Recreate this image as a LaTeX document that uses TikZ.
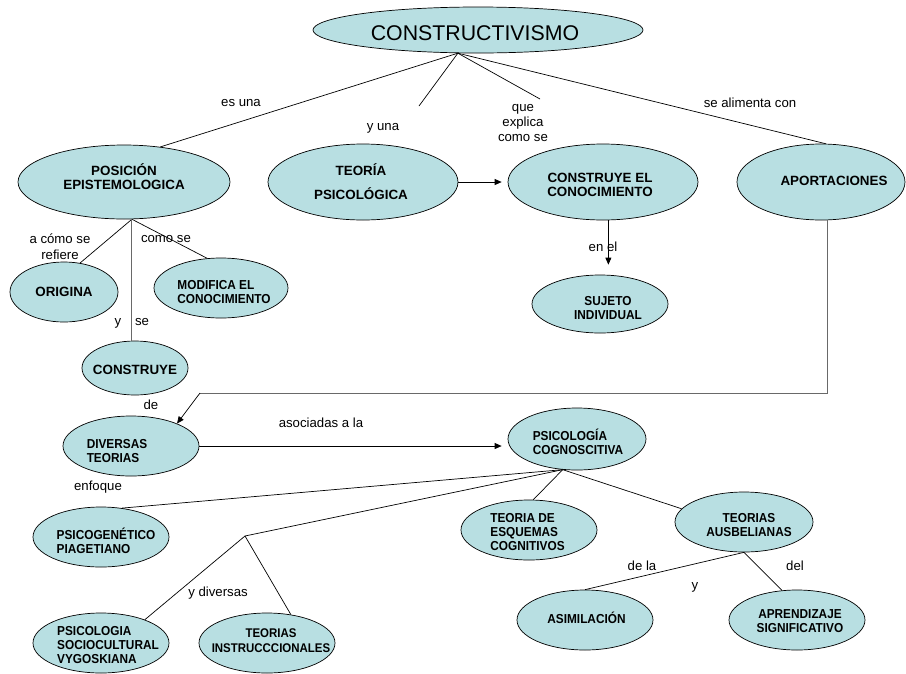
\documentclass[tikz,border=0pt]{standalone}
\usepackage{fontspec}
\setmainfont{Liberation Sans}
\newfontfamily\condfont[FakeStretch=0.91]{Liberation Sans}
\usetikzlibrary{shapes.geometric,arrows.meta}
\definecolor{nodefill}{RGB}{184,223,226}
\definecolor{linkgray}{RGB}{105,105,105}
\tikzset{
  concept/.style={ellipse, draw=black, fill=nodefill, line width=0.7pt, inner sep=0pt},
  ctext/.style={inner sep=0pt, align=center, font=\fontsize{13.4}{14.5}\selectfont\bfseries},
  ctextc/.style={inner sep=0pt, align=center, font=\fontsize{13}{14.5}\selectfont\condfont\bfseries},
  linktext/.style={font=\fontsize{13.2}{15}\selectfont, align=center, inner sep=0pt},
  conn/.style={line width=0.7pt, draw=black},
  grayconn/.style={line width=1pt, draw=linkgray},
  arr/.style={-{Triangle[length=7pt,width=6pt]}},
}
\begin{document}
\begin{tikzpicture}[x=1pt,y=-1pt]
\useasboundingbox (0,0) rectangle (906,673);

% concept nodes
\node[concept, minimum width=330, minimum height=46,
  label={[ctext, font=\fontsize{21.3}{24}\selectfont, xshift=-3pt, yshift=-3pt]center:CONSTRUCTIVISMO}] (C) at (478,30) {};
\node[concept, minimum width=212, minimum height=74,
  label={[ctext, yshift=5.5pt]center:{POSICIÓN\\EPISTEMOLOGICA}}] (POS) at (124,182) {};
\node[concept, minimum width=190, minimum height=76,
  label={[ctext, xshift=-2pt]center:{TEORÍA\\[9.5pt]PSICOLÓGICA}}] (TP) at (363,182) {};
\node[concept, minimum width=190, minimum height=76,
  label={[ctext, xshift=-3pt, yshift=-3pt]center:{CONSTRUYE EL\\CONOCIMIENTO}}] (CEC) at (603,182) {};
\node[concept, minimum width=168, minimum height=76,
  label={[ctext, xshift=13pt, yshift=1pt]center:APORTACIONES}] (AP) at (821,182) {};
\node[concept, minimum width=136, minimum height=58,
  label={[ctextc, xshift=8pt, yshift=-4pt]center:{SUJETO\\INDIVIDUAL}}] (SI) at (600,304) {};
\node[concept, minimum width=108, minimum height=60,
  label={[ctext]center:ORIGINA}] (OR) at (64,292) {};
\node[concept, minimum width=134, minimum height=60,
  label={[ctextc, align=left, xshift=3pt, yshift=-4pt]center:{MODIFICA EL\\CONOCIMIENTO}}] (MOD) at (221,288) {};
\node[concept, minimum width=106, minimum height=54,
  label={[ctext, yshift=-2pt]center:CONSTRUYE}] (CON) at (135,368) {};
\node[concept, minimum width=136, minimum height=60,
  label={[ctextc, align=left, xshift=-14pt, yshift=-5pt]center:{DIVERSAS\\TEORIAS}}] (DT) at (131,446) {};
\node[concept, minimum width=138, minimum height=62,
  label={[ctextc, align=left, xshift=1pt, yshift=-3pt]center:{PSICOLOGÍA\\COGNOSCITIVA}}] (PC) at (577,439) {};
\node[concept, minimum width=136, minimum height=60,
  label={[ctextc, align=left, xshift=5pt, yshift=-4pt]center:{PSICOGENÉTICO\\PIAGETIANO}}] (PP) at (101,537) {};
\node[concept, minimum width=136, minimum height=60,
  label={[ctextc, align=left, font=\fontsize{13}{14}\selectfont\condfont\bfseries, xshift=7pt, yshift=-2pt]center:{PSICOLOGIA\\SOCIOCULTURAL\\VYGOSKIANA}}] (PSV) at (101,643) {};
\node[concept, minimum width=136, minimum height=60,
  label={[ctextc, font=\fontsize{12.6}{14.5}\selectfont\condfont\bfseries, xshift=4pt, yshift=2.5pt]center:{TEORIAS\\INSTRUCCCIONALES}}] (TI) at (267,643) {};
\node[concept, minimum width=136, minimum height=60,
  label={[ctextc, align=left, font=\fontsize{13}{14}\selectfont\condfont\bfseries, xshift=-1.5pt, yshift=-2pt]center:{TEORIA DE\\ESQUEMAS\\COGNITIVOS}}] (TE) at (529,530) {};
\node[concept, minimum width=138, minimum height=60,
  label={[ctextc, xshift=5pt, yshift=-3pt]center:{TEORIAS\\AUSBELIANAS}}] (TA) at (744,522) {};
\node[concept, minimum width=136, minimum height=60,
  label={[ctextc, xshift=1.5pt, yshift=2pt]center:ASIMILACIÓN}] (AS) at (585,620) {};
\node[concept, minimum width=136, minimum height=60,
  label={[ctextc, xshift=3pt, yshift=-1pt]center:{APRENDIZAJE\\SIGNIFICATIVO}}] (APS) at (797,620) {};

% free ends and bends
\coordinate (yuna) at (419,106);
\coordinate (quex) at (540,99);
\coordinate (bend) at (200,393);
\coordinate (fork) at (245,536);

% connectors from CONSTRUCTIVISMO
\draw[conn] (C.229) -- (POS.44);
\draw[conn] (C.229) -- (yuna);
\draw[conn] (C.229) -- (quex);
\draw[conn] (C.229) -- (AP.83);

% TEORIA -> CONSTRUYE EL CONOCIMIENTO -> SUJETO
\draw[conn, arr, shorten >=6pt] (TP.east) -- (CEC.west);
\draw[conn, arr, shorten >=10pt] (CEC.278) -- (CEC.278 |- SI.north);

% POSICION branches
\draw[conn] (POS.282) -- (OR.61);
\draw[conn] (POS.282) -- (MOD.115);
\draw[grayconn] (POS.282) -- (POS.282 |- CON.north);

% APORTACIONES -> DIVERSAS TEORIAS
\draw[grayconn] (AP.279) |- (bend);
\draw[conn, arr] (bend) -- (DT.26);

% DIVERSAS -> PSICOLOGIA
\draw[conn, arr, shorten >=6pt] (DT.east) -- (DT.east -| PC.west);

% PSICOLOGIA branches
\draw[conn] (PC.245) -- (PP.54);
\draw[conn] (PC.245) -- (fork);
\draw[conn] (fork) -- (PSV.28);
\draw[conn] (fork) -- (TI.50);
\draw[conn] (PC.245) -- (TE.82);
\draw[conn] (PC.245) -- (TA.168);

% AUSBELIANAS branches
\draw[conn] (TA.south) -- (AS.north);
\draw[conn] (TA.south) -- (APS.117);

% link texts
\node[linktext] (l1) at (241,103) {es una};
\node[linktext] (l2) at (383,128) {y una};
\node[linktext] (l3) at (523,123) {que\\explica\\como se};
\node[linktext] (l4) at (750,103) {se alimenta con};
\node[linktext] (l5) at (603,247) {en el};
\node[linktext, font=\fontsize{13.2}{16}\selectfont] (l6) at (60,247) {a cómo se\\refiere};
\node[linktext] (l7) at (166,239) {como se};
\node[linktext] (l8) at (118,323) {y};
\node[linktext] (l9) at (142,322) {se};
\node[linktext] (l10) at (151,405) {de};
\node[linktext] (l11) at (321,423) {asociadas a la};
\node[linktext] (l12) at (98,487) {enfoque};
\node[linktext] (l13) at (218,593) {y diversas};
\node[linktext] (l14) at (642,566) {de la};
\node[linktext] (l15) at (695,587) {y};
\node[linktext] (l16) at (795,566) {del};
\end{tikzpicture}
\end{document}
